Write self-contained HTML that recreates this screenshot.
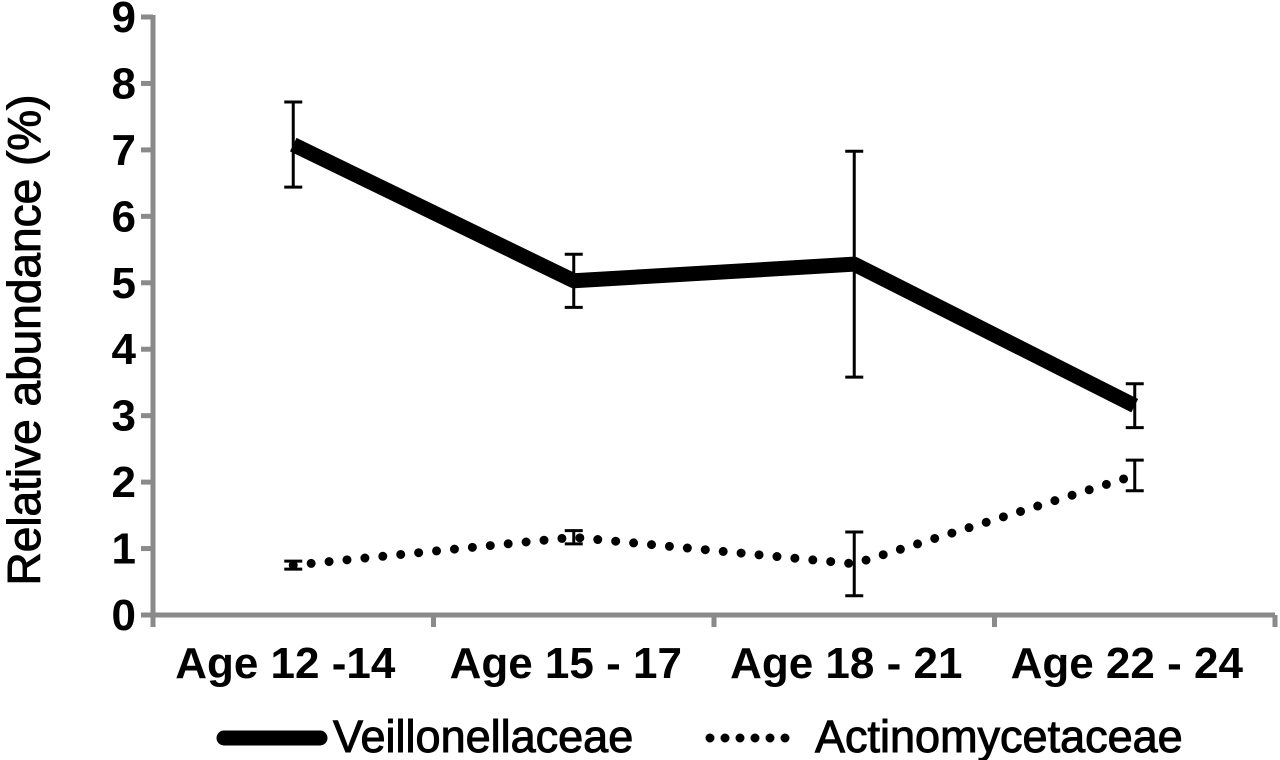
<!DOCTYPE html>
<html><head><meta charset="utf-8"><style>
body{margin:0;background:#fff;}
svg{display:block;font-family:"Liberation Sans",Arial,sans-serif;font-weight:bold;}
</style></head><body>
<svg id="chart" width="1280" height="760" viewBox="0 0 1280 760">
<g id="axes"></g><g id="series"></g><g id="legend"></g>
</svg>
<script>
const categories = ["Age 12 -14","Age 15 - 17","Age 18 - 21","Age 22 - 24"];
const veillonValues = [7.08, 5.03, 5.28, 3.15];
const veillonErr = [0.64, 0.40, 1.70, 0.33];
const actinoValues = [0.75, 1.17, 0.77, 2.10];
const actinoErr = [0.06, 0.10, 0.48, 0.23];
const yTicks = [0,1,2,3,4,5,6,7,8,9];

const NS="http://www.w3.org/2000/svg";
const x0=153, x1=1275, y0=615, yTop=17;
const catW=(x1-x0)/categories.length;
const xs=i=>x0+catW*(i+0.5);
const ys=v=>y0-(v/9)*(y0-yTop);
function mk(tag,attrs,parent){const e=document.createElementNS(NS,tag);for(const k in attrs)e.setAttribute(k,attrs[k]);parent.appendChild(e);return e;}
const axes=document.getElementById('axes'), series=document.getElementById('series'), legend=document.getElementById('legend');
const grey="#8a8a8a";

let ya=mk('line',{x1:x0,y1:ys(9)-2,x2:x0,y2:y0+12,stroke:grey,'stroke-width':5},axes);


yTicks.forEach(t=>{
  const tk=mk('line',{x1:x0-12,y1:ys(t),x2:x0,y2:ys(t),stroke:grey,'stroke-width':5},axes);
  
  
  const tl=mk('text',{x:x0-17,y:ys(t)+15,'text-anchor':'end','font-size':44,fill:'#000'},axes);
  tl.textContent=t;
  
  
});
let xa=mk('line',{x1:x0-12,y1:y0,x2:x1,y2:y0,stroke:grey,'stroke-width':5},axes);


for(let i=0;i<=categories.length;i++){
  const xx=x0+catW*i;
  const tk=mk('line',{x1:xx,y1:y0,x2:xx,y2:y0+12,stroke:grey,'stroke-width':5},axes);
  
  
}
categories.forEach((c,i)=>{
  const tl=mk('text',{x:xs(i)-8,y:678,'text-anchor':'middle','font-size':44,fill:'#000'},axes);
  tl.textContent=c;
  
  
});
const yt=mk('text',{x:0,y:0,transform:'translate(40,340) rotate(-90)','text-anchor':'middle','font-size':46,'font-weight':'normal',fill:'#000',stroke:'#000','stroke-width':1},axes);
yt.textContent="Relative abundance (%)";



function drawSeries(vals,errs,name,style){
  const pts=vals.map((v,i)=>xs(i)+','+ys(v)).join(' ');
  const pl=mk('polyline',Object.assign({points:pts,fill:'none',stroke:'#000'},style),series);
  
  
  vals.forEach((v,i)=>{
    const g=mk('g',{stroke:'#000','stroke-width':3},series);
    
    
    const x=xs(i),a=ys(v+errs[i]),b=ys(v-errs[i]);
    mk('line',{x1:x,y1:a,x2:x,y2:b},g);
    mk('line',{x1:x-9,y1:a,x2:x+9,y2:a},g);
    mk('line',{x1:x-9,y1:b,x2:x+9,y2:b},g);
  });
}
drawSeries(veillonValues,veillonErr,'veillonellaceae',{'stroke-width':15,'stroke-linejoin':'round'});
drawSeries(actinoValues,actinoErr,'actinomycetaceae',{'stroke-width':9,'stroke-dasharray':'0 18','stroke-linecap':'round'});

const l1=mk('line',{x1:224,y1:738,x2:320,y2:738,stroke:'#000','stroke-width':15,'stroke-linecap':'round'},legend);


const t1=mk('text',{x:333,y:752,'font-size':45,'font-weight':'normal',fill:'#000',stroke:'#000','stroke-width':1},legend);
t1.textContent="Veillonellaceae";


const l2=mk('line',{x1:710,y1:738,x2:800,y2:738,stroke:'#000','stroke-width':9,'stroke-dasharray':'0 15','stroke-linecap':'round'},legend);


const t2=mk('text',{x:815,y:752,'font-size':45,'font-weight':'normal',fill:'#000',stroke:'#000','stroke-width':1},legend);
t2.textContent="Actinomycetaceae";


</script>
</body></html>
